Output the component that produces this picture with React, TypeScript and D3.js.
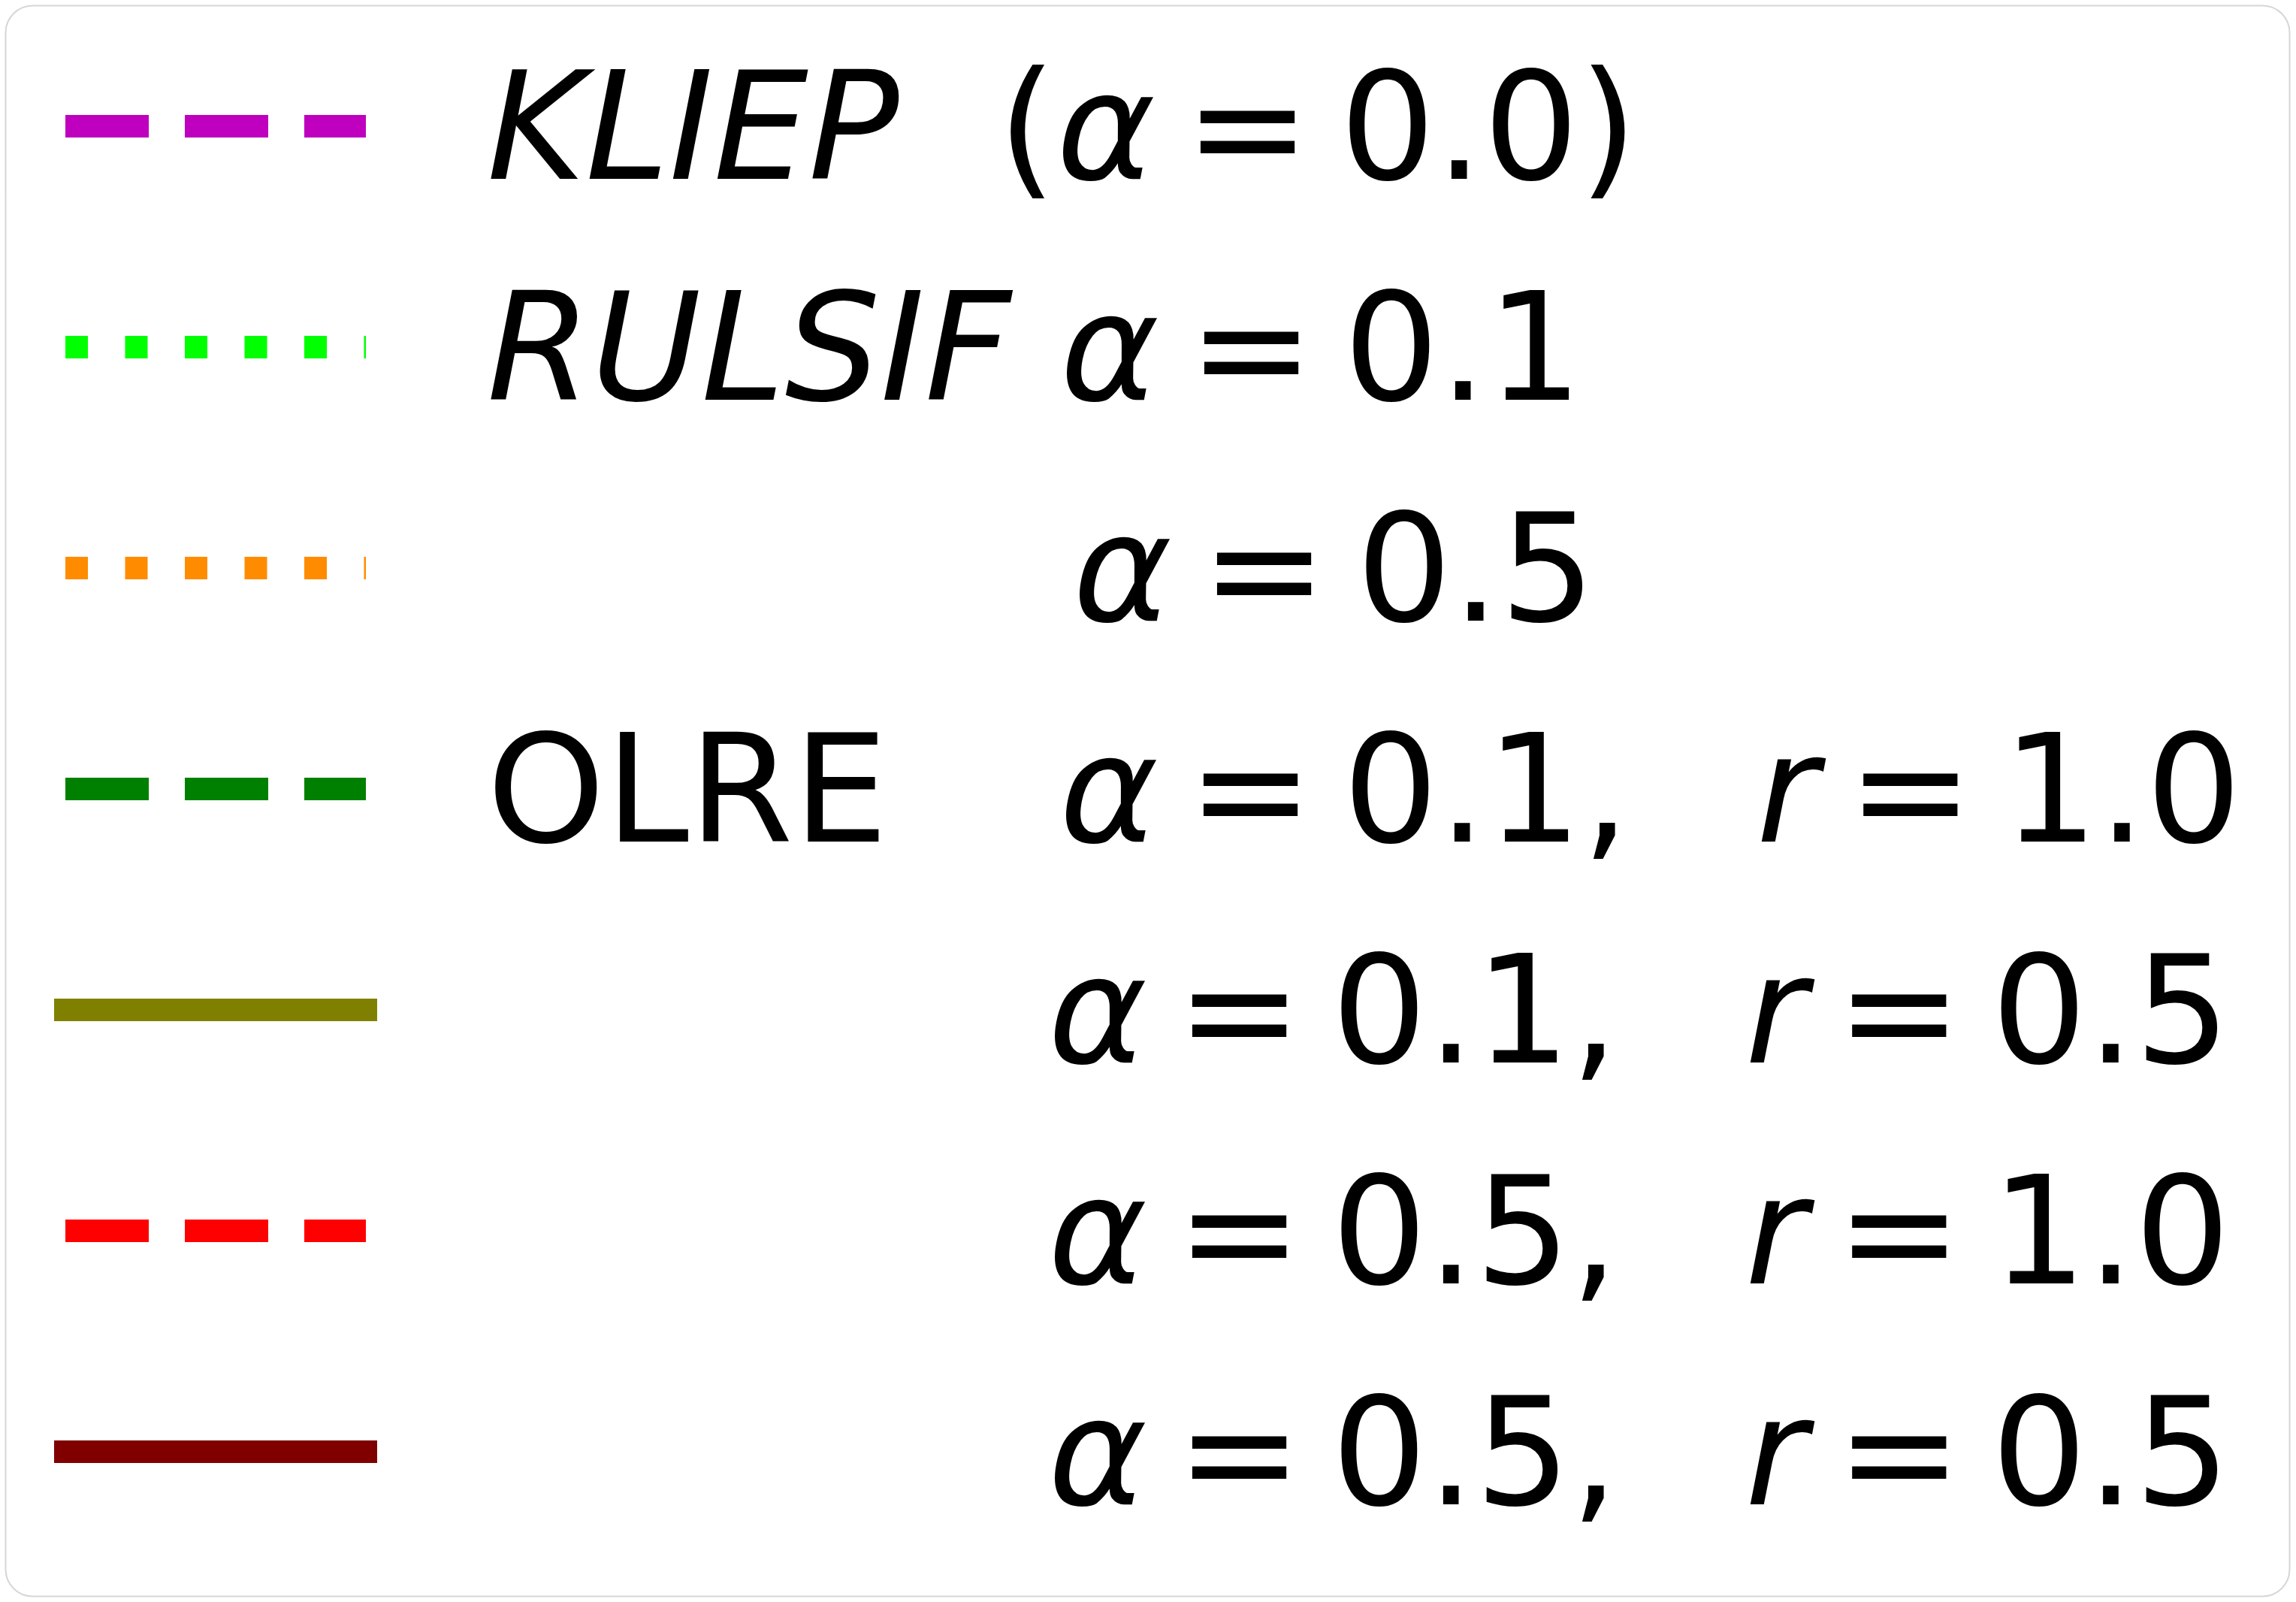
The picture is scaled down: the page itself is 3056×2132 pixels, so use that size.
import React from 'react';
import * as d3 from 'd3';

// legend entries, top to bottom
const methods = ['KLIEP', 'RULSIF', '', 'OLRE', '', '', ''];
const methodItalic = [true, true, false, false, false, false, false];
const alphas = ['0.0', '0.1', '0.5', '0.1', '0.1', '0.5', '0.5'];
const rValues = [null, null, null, '1.0', '0.5', '1.0', '0.5'];
const colors = ['#bf00bf', '#00ff00', '#ff8c00', '#008000', '#808000', '#ff0000', '#800000'];
const lineStyles = ['dashed', 'dotted', 'dotted', 'dashed', 'solid', 'dashed', 'solid'];

const W = 3056;
const H = 2132;
const FS = 200;
const FONT = '"DejaVu Sans", sans-serif';

// mathtext spacing (em = advance of italic m)
const EM = 0.974 * FS;
const REL = 0.2 * EM;
const SP = 0.33333 * EM;

const LW = 30;
const dashFor = (s: string) =>
  s === 'dashed' ? `${3.7 * LW} ${1.6 * LW}` : s === 'dotted' ? `${1 * LW} ${1.65 * LW}` : undefined;

// x where the alpha part of each label starts (row 0 starts with the bracket)
const alphaStart = [1328, 1411, 1428, 1410, 1395, 1395, 1395];

const App = () => {
  const y = d3.scaleLinear().domain([0, 6]).range([238, 238 + 6 * 294]);
  const hx = d3.scaleLinear().domain([0, 1]).range([87, 487]);
  const line = d3.line<[number, number]>();

  return (
    <div style={{ position: 'absolute', left: 0, top: 0 }}>
      <svg width={W} height={H} style={{ display: 'block', background: '#fff' }}>
        <rect x={7.5} y={7.5} width={3040} height={2117} rx={36} ry={36}
          fill="#fff" stroke="#d6d6d6" strokeWidth={2} />
        {alphas.map((a, i) => {
          const base = y(i);
          const ly = base - 70;
          const style = lineStyles[i];
          const r = rValues[i];
          return (
            <g key={i}>
              <path
                d={line([[hx(0), ly], [hx(1), ly]]) as string}
                stroke={colors[i]}
                strokeWidth={LW}
                strokeDasharray={dashFor(style)}
                strokeLinecap={style === 'solid' ? 'square' : 'butt'}
                fill="none"
              />
              {methods[i] && (
                <text x={648} y={base} fontFamily={FONT} fontSize={FS}
                  fontStyle={methodItalic[i] ? 'italic' : 'normal'}>
                  {methods[i]}
                </text>
              )}
              <text x={alphaStart[i]} y={base} fontFamily={FONT} fontSize={FS} xmlSpace="preserve">
                {i === 0 && <tspan>(</tspan>}
                <tspan fontStyle="italic">α</tspan>
                <tspan dx={REL}>=</tspan>
                <tspan dx={REL}>{a}</tspan>
                {r && <tspan>,</tspan>}
                {r && <tspan dx={REL + 2 * SP} fontStyle="italic">r</tspan>}
                {r && <tspan dx={REL}>=</tspan>}
                {r && <tspan dx={REL}>{r}</tspan>}
                {i === 0 && <tspan>)</tspan>}
              </text>
            </g>
          );
        })}
      </svg>
    </div>
  );
};

export default App;
